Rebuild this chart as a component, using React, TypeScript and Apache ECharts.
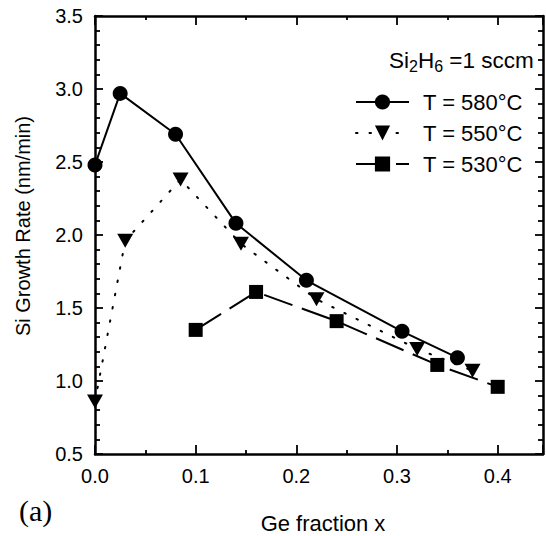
import React, { useEffect, useRef } from "react";
import * as echarts from "echarts";

const x580 = [0.0, 0.025, 0.08, 0.14, 0.21, 0.305, 0.36];
const y580 = [2.48, 2.97, 2.69, 2.08, 1.69, 1.34, 1.16];
const x550 = [0.0, 0.03, 0.085, 0.145, 0.22, 0.32, 0.375];
const y550 = [0.86, 1.96, 2.38, 1.94, 1.56, 1.22, 1.07];
const x530 = [0.1, 0.16, 0.24, 0.34, 0.4];
const y530 = [1.35, 1.61, 1.41, 1.11, 0.96];
const seriesNames = ["T = 580°C", "T = 550°C", "T = 530°C"];

const FONT = "'Liberation Sans', Arial, sans-serif";

const pairs = (xs: number[], ys: number[]) => xs.map((x, i) => [x, ys[i]]);

export default function App() {
  const ref = useRef<HTMLDivElement>(null);
  useEffect(() => {
    if (!ref.current) return;
    const chart = echarts.init(ref.current, undefined, { renderer: "svg" });
    const axisLine = { show: true, onZero: false, lineStyle: { color: "#000", width: 2.5 } };
    const tickStyle = { color: "#000", width: 1.8 };
    chart.setOption({
      animation: false,
      backgroundColor: "#fff",
      grid: { left: 95, top: 16, right: 3, bottom: 82 },
      xAxis: [
        {
          type: "value",
          min: 0,
          max: 0.445,
          interval: 0.1,
          position: "bottom",
          axisLine,
          axisTick: { show: true, inside: true, length: 9, lineStyle: tickStyle },
          minorTick: { show: true, splitNumber: 2, length: 4, lineStyle: tickStyle },
          splitLine: { show: false },
          axisLabel: {
            margin: 12,
            fontSize: 20,
            fontFamily: FONT,
            color: "#000",
            showMaxLabel: false,
            formatter: (v: number) => v.toFixed(1),
          },
        },
        {
          type: "value",
          min: 0,
          max: 0.445,
          interval: 0.1,
          position: "top",
          axisLine,
          axisTick: { show: true, inside: true, length: 9, lineStyle: tickStyle },
          minorTick: { show: true, splitNumber: 2, length: 4, lineStyle: tickStyle },
          splitLine: { show: false },
          axisLabel: { show: false },
        },
      ],
      yAxis: [
        {
          type: "value",
          min: 0.5,
          max: 3.5,
          interval: 0.5,
          position: "left",
          axisLine,
          axisTick: { show: true, inside: true, length: 8, lineStyle: tickStyle },
          minorTick: { show: true, splitNumber: 5, length: 5, lineStyle: tickStyle },
          splitLine: { show: false },
          axisLabel: {
            margin: 12,
            fontSize: 20,
            fontFamily: FONT,
            color: "#000",
            formatter: (v: number) => v.toFixed(1),
          },
        },
        {
          type: "value",
          min: 0.5,
          max: 3.5,
          interval: 0.5,
          position: "right",
          axisLine,
          axisTick: { show: true, inside: true, length: 8, lineStyle: tickStyle },
          minorTick: { show: true, splitNumber: 5, length: 5, lineStyle: tickStyle },
          splitLine: { show: false },
          axisLabel: { show: false },
        },
      ],
      legend: {
        orient: "vertical",
        left: 355,
        top: 91,
        padding: 0,
        itemWidth: 53,
        itemHeight: 19,
        itemGap: 9,
        textStyle: { fontSize: 22, fontFamily: FONT, color: "#000", padding: [0, 0, 0, 9] },
        data: seriesNames,
      },
      graphic: [
        {
          type: "text",
          left: 389,
          top: 49,
          style: {
            text: "Si{sub|2}H{sub|6} =1 sccm",
            font: `22.5px ${FONT}`,
            fill: "#000",
            rich: {
              sub: { fontSize: 16, fontFamily: FONT, verticalAlign: "bottom", padding: [11, 0, 0, 0] },
            },
          },
        },
        {
          type: "text",
          x: 23,
          y: 226,
          rotation: Math.PI / 2,
          style: {
            text: "Si Growth Rate (nm/min)",
            font: `20px ${FONT}`,
            fill: "#000",
            align: "center",
            verticalAlign: "middle",
          },
        },
        {
          type: "text",
          x: 323,
          y: 523,
          style: {
            text: "Ge fraction x",
            font: `22px ${FONT}`,
            fill: "#000",
            align: "center",
            verticalAlign: "middle",
          },
        },
        {
          type: "text",
          x: 19,
          y: 510,
          style: {
            text: "(a)",
            font: `30px 'Liberation Serif', 'Times New Roman', serif`,
            fill: "#000",
            align: "left",
            verticalAlign: "middle",
          },
        },
      ],
      series: [
        {
          name: seriesNames[0],
          type: "line",
          data: pairs(x580, y580),
          symbol: "circle",
          symbolSize: 15,
          clip: false,
          itemStyle: { color: "#000" },
          lineStyle: { color: "#000", width: 2, type: "solid" },
        },
        {
          name: seriesNames[1],
          type: "line",
          data: pairs(x550, y550),
          symbol: "triangle",
          symbolRotate: 180,
          symbolSize: [16, 14],
          clip: false,
          itemStyle: { color: "#000" },
          lineStyle: { color: "#000", width: 2, type: [1.5, 12], cap: "round" },
        },
        {
          name: seriesNames[2],
          type: "line",
          data: pairs(x530, y530),
          symbol: "rect",
          symbolSize: 14,
          clip: false,
          itemStyle: { color: "#000" },
          lineStyle: { color: "#000", width: 2, type: [30, 10] },
        },
      ],
    });
    return () => chart.dispose();
  }, []);
  return <div ref={ref} style={{ width: 546, height: 536, position: "absolute", left: 0, top: 0 }} />;
}
